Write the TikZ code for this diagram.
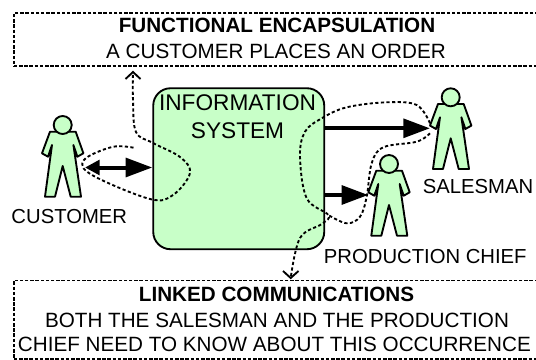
\documentclass[tikz,border=0pt]{standalone}
\usepackage{fontspec}
\setmainfont{Liberation Sans}
\usetikzlibrary{arrows.meta}
\definecolor{figgreen}{HTML}{C8FFC8}
\tikzset{
  notebox/.style={draw, line width=1.3pt, dash pattern=on 2.6pt off 1.3pt},
  boxtext/.style={inner sep=0pt, font=\fontsize{15.5}{18}\selectfont},
  boxtitle/.style={inner sep=0pt, font=\fontsize{15.5}{18}\selectfont\bfseries},
  figlabel/.style={inner sep=0pt, font=\fontsize{15.2}{18}\selectfont},
  syslabel/.style={inner sep=0pt, font=\fontsize{17}{20}\selectfont},
  bigarrow/.style={line width=3pt, -{Triangle[length=20pt, width=14pt]}},
  dotflow/.style={line width=1.4pt, dash pattern=on 2.4pt off 1.8pt},
  person/.pic={
    \draw[line width=1.4pt, fill=figgreen, line join=round]
      (-12.7,6.7) -- (13,6.7) -- (20.7,28.3) -- (14.7,31.7) -- (10.7,20)
      -- (18.3,71.7) -- (8,71.7) -- (0,41) -- (-7.7,71.7) -- (-17.7,71.7)
      -- (-10.7,20) -- (-14.7,31.7) -- (-20.7,28.3) -- cycle;
    \node[circle, draw, line width=1.4pt, fill=figgreen, minimum size=13.5pt, inner sep=0pt] (-head) at (0,0) {};
    \coordinate (-hand) at (-20.7,31);
    \coordinate (-upper) at (-20.7,26);
    \coordinate (-lower) at (-20.7,36);
  },
}
\begin{document}
\begin{tikzpicture}[x=0.75pt, y=-0.75pt]
  \useasboundingbox (0,0) rectangle (536,360);
  % note boxes
  \node[notebox, minimum width=540*0.75pt, minimum height=53*0.75pt, anchor=north west] (topbox) at (13,12.5) {};
  \node[notebox, minimum width=540*0.75pt, minimum height=78.5*0.75pt, anchor=north west] (botbox) at (13,279.5) {};
  \node[boxtitle] (toptitle) at (277,25.6) {FUNCTIONAL ENCAPSULATION};
  \node[boxtext] (topline) at (276,51) {A CUSTOMER PLACES AN ORDER};
  \node[boxtitle] (bottitle) at (276.5,294.2) {LINKED COMMUNICATIONS};
  \node[boxtext] (botline) at (277,320) {BOTH THE SALESMAN AND THE PRODUCTION};
  \node[boxtext] (botlast) at (274.4,344.5) {CHIEF NEED TO KNOW ABOUT THIS OCCURRENCE};
  % system
  \node[draw, line width=1.4pt, fill=figgreen, rounded corners=13pt, minimum width=171*0.75pt,
    minimum height=161*0.75pt, anchor=north west] (system) at (152.3,87.3) {};
  \node[syslabel] (infolabel) at (237.5,103) {INFORMATION};
  \node[syslabel] (syslabel) at (237.5,130.7) {SYSTEM};
  % people
  \pic (customer) at (62.7,125) {person};
  \pic (salesman) at (450.7,97.3) {person};
  \pic (chief) at (389,164) {person};
  \node[figlabel] (customerlabel) at (69.3,216.7) {CUSTOMER};
  \node[figlabel] (salesmanlabel) at (478,187) {SALESMAN};
  \node[figlabel] (chieflabel) at (425.3,257) {PRODUCTION CHIEF};
  % arrows
  \coordinate (customertip) at (85,167.5);
  \draw[line width=3pt, {Triangle[length=11pt, width=11pt]}-{Triangle[length=20pt, width=14pt]}]
    (customertip) -- (customertip -| system.west);
  \draw[bigarrow] (system.east |- salesman-hand) -- (salesman-hand);
  \draw[bigarrow] (system.east |- chief-hand) -- (chief-hand);
  % dotted flows
  \coordinate (topend) at (133,72);
  \coordinate (botend) at (290.7,278);
  \draw[dotflow] plot[smooth, tension=0.6] coordinates {(133.5,147.7) (112,147) (84,160) (92,175) (150,199) (173,195) (190,173) (180,157) (153,143) (136,132) (133,100) (topend)};
  \draw[dotflow] plot[smooth, tension=0.6] coordinates {(salesman-upper) (416.7,105) (386.7,102.3) (346.7,107.3) (321.7,118.3) (305,131.7) (300,156.7) (306.7,198.3) (328.3,215) (321.7,224) (300,238) (botend)};
  \draw[dotflow] plot[smooth, tension=0.6] coordinates {(salesman-lower) (416.7,141.7) (383.3,147.3) (371.7,163.3) (366.7,196.7) (360,216.7) (346.7,223.3) (328.3,215)};
  \draw[line width=1.4pt] (125.5,79) -- (topend) -- (140.5,79);
  \draw[line width=1.4pt] (283,271) -- (botend) -- (298.5,271);
\end{tikzpicture}
\end{document}
